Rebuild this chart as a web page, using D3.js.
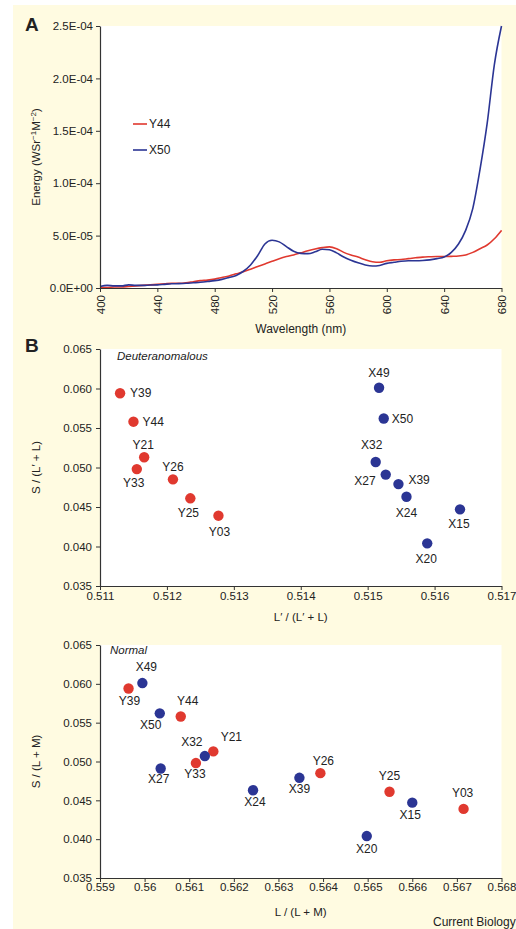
<!DOCTYPE html>
<html>
  <head>
    <meta charset="utf-8">
    <title>Spectra and cone ratios</title>
    <script src="https://d3js.org/d3.v7.min.js"></script>
    <style>
      body { margin: 0; background: #fff; }
      text { font-family: "Liberation Sans", Arial, Helvetica, sans-serif; fill: #222; }
    </style>
  </head>
  <body>
    <div id="graph"></div>
  </body>

  <script>
    // Panel A: spectral energy (values in units of 1E-05 W Sr^-1 M^-2)
    const wavelengths = [400, 405, 410, 415, 420, 425, 430, 435, 440, 445, 450, 455, 460, 465, 470, 475,
      480, 485, 490, 495, 500, 505, 510, 515, 520, 525, 530, 535, 540, 545, 550, 555, 560, 565, 570,
      575, 580, 585, 590, 595, 600, 605, 610, 615, 620, 625, 630, 635, 640, 645, 650, 655, 660, 665,
      670, 675, 680];
    const energyY44 = [0.05, 0.05, 0.1, 0.1, 0.15, 0.2, 0.25, 0.3, 0.35, 0.4, 0.45, 0.45, 0.5, 0.6, 0.7, 0.75,
      0.85, 1.0, 1.15, 1.35, 1.55, 1.8, 2.05, 2.3, 2.55, 2.8, 3.0, 3.15, 3.35, 3.55, 3.72, 3.85, 3.92, 3.75, 3.4,
      3.15, 2.95, 2.7, 2.5, 2.45, 2.6, 2.68, 2.72, 2.8, 2.88, 2.95, 2.98, 3.0, 3.0, 3.02, 3.05, 3.15, 3.4, 3.75,
      4.1, 4.7, 5.5];
    const energyX50 = [0.15, 0.25, 0.2, 0.2, 0.3, 0.25, 0.25, 0.28, 0.3, 0.35, 0.4, 0.42, 0.45, 0.5, 0.55, 0.62,
      0.7, 0.82, 1.0, 1.2, 1.6, 2.2, 3.1, 4.2, 4.55, 4.4, 3.95, 3.5, 3.3, 3.28, 3.45, 3.7, 3.65, 3.35, 2.95,
      2.65, 2.4, 2.2, 2.1, 2.15, 2.35, 2.45, 2.55, 2.6, 2.6, 2.62, 2.68, 2.8, 2.95, 3.4, 4.2, 5.5, 7.6, 11.3,
      15.7, 21.3, 25.0];
    const energyTicks = [0, 5, 10, 15, 20, 25];
    const energyTickLabels = ["0.0E+00", "5.0E-05", "1.0E-04", "1.5E-04", "2.0E-04", "2.5E-04"];
    const wavelengthTicks = [400, 440, 480, 520, 560, 600, 640, 680];

    // Panel B and C: subjects and cone ratios
    const subjects = ["Y39", "Y44", "Y21", "Y33", "Y26", "Y25", "Y03", "X49", "X50", "X32", "X27", "X39", "X24", "X15", "X20"];
    const sRatio = [0.0594, 0.0558, 0.0513, 0.0498, 0.0485, 0.0461, 0.0439, 0.0601, 0.0562, 0.0507, 0.0491, 0.0479, 0.0463, 0.0447, 0.0404];
    const deutRatio = [0.5113, 0.5115, 0.51166, 0.51155, 0.51209, 0.51235, 0.51277, 0.51517, 0.51524, 0.51512, 0.51527, 0.51546, 0.51558, 0.51638, 0.51589];
    const normRatio = [0.55964, 0.56081, 0.56154, 0.56115, 0.56394, 0.56549, 0.56715, 0.55995, 0.56034, 0.56135, 0.56036, 0.56347, 0.56243, 0.56600, 0.56498];
    const sTicks = [0.035, 0.040, 0.045, 0.050, 0.055, 0.060, 0.065];
    const sTickLabels = ["0.035", "0.040", "0.045", "0.050", "0.055", "0.060", "0.065"];
    const deutTicks = [0.511, 0.512, 0.513, 0.514, 0.515, 0.516, 0.517];
    const deutTickLabels = ["0.511", "0.512", "0.513", "0.514", "0.515", "0.516", "0.517"];
    const normTicks = [0.559, 0.560, 0.561, 0.562, 0.563, 0.564, 0.565, 0.566, 0.567, 0.568];
    const normTickLabels = ["0.559", "0.56", "0.561", "0.562", "0.563", "0.564", "0.565", "0.566", "0.567", "0.568"];

    // Label placement next to each dot: [dx, dy, anchor]
    const deutLabelPos = {
      Y39: [10, 4, "start"], Y44: [9, 4, "start"], Y21: [-1, -8.5, "middle"], Y33: [-3, 18, "middle"],
      Y26: [0, -8.5, "middle"], Y25: [-2, 19, "middle"], Y03: [1, 20, "middle"], X49: [0, -11, "middle"],
      X50: [8, 4, "start"], X32: [-4, -12.5, "middle"], X27: [-10, 10, "end"], X39: [10, 0, "start"],
      X24: [0, 20, "middle"], X15: [-1, 19, "middle"], X20: [-1, 20, "middle"]
    };
    const normLabelPos = {
      Y39: [1, 17, "middle"], Y44: [7, -11, "middle"], Y21: [18, -10, "middle"], Y33: [-1, 15, "middle"],
      Y26: [3, -8, "middle"], Y25: [0, -12, "middle"], Y03: [-1, -12, "middle"], X49: [4, -12, "middle"],
      X50: [-9, 16, "middle"], X32: [-13, -10.5, "middle"], X27: [-2, 15, "middle"], X39: [0, 15, "middle"],
      X24: [2, 16, "middle"], X15: [-2, 16, "middle"], X20: [0, 16.5, "middle"]
    };

    const width = 516;
    const height = 929;
    const red = "#e0392f";
    const blue = "#2b3594";
    const left = 100, right = 501.5;

    let svg = d3.select("#graph").append("svg")
      .attr("width", width)
      .attr("height", height);

    // Pale yellow figure panel
    svg.append("rect")
      .attr("x", 13).attr("y", 5)
      .attr("width", width - 13).attr("height", height - 5)
      .attr("fill", "#fffbe1");

    function styleAxis(g) {
      g.select(".domain").attr("stroke", "#333").attr("stroke-width", 1.2);
      g.selectAll(".tick line").attr("stroke", "#333");
      g.selectAll(".tick text")
        .style("font-family", "'Liberation Sans', Arial, sans-serif")
        .style("font-size", "11.5px")
        .attr("fill", "#222");
    }

    function panelLetter(txt, y) {
      svg.append("text")
        .attr("x", 25).attr("y", y)
        .style("font-size", "19px").style("font-weight", "bold")
        .text(txt);
    }

    // ---------- Panel A ----------
    const aTop = 26, aBottom = 288;
    let xA = d3.scaleLinear().domain([400, 680]).range([left, right]);
    let yA = d3.scaleLinear().domain([0, 25]).range([aBottom, aTop]);

    svg.append("rect")
      .attr("x", left).attr("y", aTop)
      .attr("width", right - left).attr("height", aBottom - aTop)
      .attr("fill", "#fff");

    let line = d3.line()
      .x((d, i) => xA(wavelengths[i]))
      .y(d => yA(d))
      .curve(d3.curveMonotoneX);

    svg.append("path").datum(energyY44)
      .attr("d", line).attr("fill", "none")
      .attr("stroke", red).attr("stroke-width", 1.6);
    svg.append("path").datum(energyX50)
      .attr("d", line).attr("fill", "none")
      .attr("stroke", blue).attr("stroke-width", 1.6);

    let yAxisA = svg.append("g")
      .attr("transform", `translate(${left},0)`)
      .call(d3.axisLeft(yA).tickValues(energyTicks)
        .tickFormat((d, i) => energyTickLabels[i])
        .tickSize(4).tickSizeOuter(0).tickPadding(3));
    styleAxis(yAxisA);

    let xAxisA = svg.append("g")
      .attr("transform", `translate(0,${aBottom})`)
      .call(d3.axisBottom(xA).tickValues(wavelengthTicks).tickSize(4).tickSizeOuter(0));
    styleAxis(xAxisA);
    xAxisA.selectAll(".tick text")
      .attr("transform", "rotate(-90)")
      .attr("x", -7).attr("y", 0).attr("dy", "0.35em")
      .attr("text-anchor", "end");

    svg.append("text")
      .attr("x", (left + right) / 2).attr("y", 333)
      .attr("text-anchor", "middle")
      .style("font-size", "12px")
      .text("Wavelength (nm)");

    let eTitle = svg.append("text")
      .attr("transform", `translate(40,${(aTop + aBottom) / 2}) rotate(-90)`)
      .attr("text-anchor", "middle")
      .style("font-size", "11.5px");
    eTitle.append("tspan").text("Energy (WSr");
    eTitle.append("tspan").attr("dy", -4).style("font-size", "8px").text("\u22121");
    eTitle.append("tspan").attr("dy", 4).text("M");
    eTitle.append("tspan").attr("dy", -4).style("font-size", "8px").text("\u22122");
    eTitle.append("tspan").attr("dy", 4).text(")");

    // Legend
    const legendItems = [["Y44", red, 124], ["X50", blue, 150]];
    legendItems.forEach(function(it) {
      svg.append("line")
        .attr("x1", 133).attr("x2", 147)
        .attr("y1", it[2]).attr("y2", it[2])
        .attr("stroke", it[1]).attr("stroke-width", 1.6);
      svg.append("text")
        .attr("x", 149).attr("y", it[2]).attr("dy", "0.35em")
        .style("font-size", "12px")
        .text(it[0]);
    });

    panelLetter("A", 31);

    // ---------- Scatter panels ----------
    function scatter(opts) {
      let x = d3.scaleLinear().domain(opts.xDomain).range([left, right]);
      let y = d3.scaleLinear().domain([0.035, 0.065]).range([opts.bottom, opts.top]);

      svg.append("rect")
        .attr("x", left).attr("y", opts.top)
        .attr("width", right - left).attr("height", opts.bottom - opts.top)
        .attr("fill", "#fff");

      let yAxis = svg.append("g")
        .attr("transform", `translate(${left},0)`)
        .call(d3.axisLeft(y).tickValues(sTicks)
          .tickFormat((d, i) => sTickLabels[i])
          .tickSize(4).tickSizeOuter(0).tickPadding(4));
      styleAxis(yAxis);

      let xAxis = svg.append("g")
        .attr("transform", `translate(0,${opts.bottom})`)
        .call(d3.axisBottom(x).tickValues(opts.ticks)
          .tickFormat((d, i) => opts.tickLabels[i])
          .tickSize(4).tickSizeOuter(0).tickPadding(opts.tickPad));
      styleAxis(xAxis);

      let pts = subjects.map((s, i) => ({ name: s, x: opts.xValues[i], y: sRatio[i] }));

      svg.append("g").selectAll("circle")
        .data(pts)
        .enter()
        .append("circle")
        .attr("cx", d => x(d.x))
        .attr("cy", d => y(d.y))
        .attr("r", 5.2)
        .attr("fill", d => d.name[0] === "Y" ? red : blue);

      svg.append("g").selectAll("text")
        .data(pts)
        .enter()
        .append("text")
        .attr("x", d => x(d.x) + opts.labelPos[d.name][0])
        .attr("y", d => y(d.y) + opts.labelPos[d.name][1])
        .attr("text-anchor", d => opts.labelPos[d.name][2])
        .style("font-size", "12px")
        .text(d => d.name);

      svg.append("text")
        .attr("x", opts.noteX).attr("y", opts.noteY)
        .style("font-size", "11.5px").style("font-style", "italic")
        .text(opts.note);

      svg.append("text")
        .attr("x", (left + right) / 2).attr("y", opts.xTitleY)
        .attr("text-anchor", "middle")
        .style("font-size", "11.5px")
        .text(opts.xTitle);

      svg.append("text")
        .attr("transform", `translate(40,${(opts.top + opts.bottom) / 2}) rotate(-90)`)
        .attr("text-anchor", "middle")
        .style("font-size", "11.5px")
        .text(opts.yTitle);
    }

    scatter({
      top: 349, bottom: 586,
      xDomain: [0.511, 0.517], xValues: deutRatio,
      ticks: deutTicks, tickLabels: deutTickLabels, tickPad: 2,
      labelPos: deutLabelPos,
      note: "Deuteranomalous", noteX: 117, noteY: 360,
      xTitle: "L\u2032 / (L\u2032 + L)", xTitleY: 621,
      yTitle: "S / (L\u2032 + L)"
    });
    panelLetter("B", 352);

    scatter({
      top: 645, bottom: 878,
      xDomain: [0.559, 0.568], xValues: normRatio,
      ticks: normTicks, tickLabels: normTickLabels, tickPad: 1,
      labelPos: normLabelPos,
      note: "Normal", noteX: 110, noteY: 654,
      xTitle: "L / (L + M)", xTitleY: 916,
      yTitle: "S / (L + M)"
    });

    svg.append("text")
      .attr("x", 433).attr("y", 926)
      .style("font-size", "12px")
      .text("Current Biology");
  </script>
</html>
